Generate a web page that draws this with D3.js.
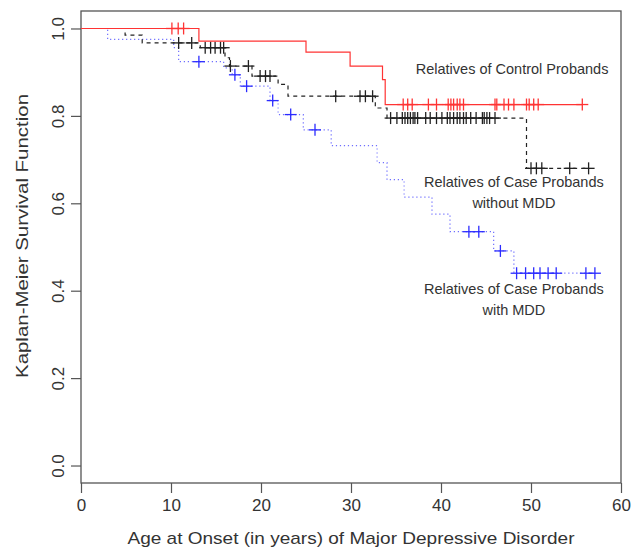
<!DOCTYPE html>
<html>
<head>
<meta charset="utf-8">
<script src="https://cdn.jsdelivr.net/npm/d3@7"></script>
<style>
  body { margin: 0; background: #fff; }
  svg text { font-family: "Liberation Sans", Arial, sans-serif; fill: #333; }
</style>
</head>
<body>
<div id="chart"></div>
<script>
// Kaplan-Meier steps: [age, survival after the drop]
const controlEvents = [[13.1, 0.971], [25.0, 0.946], [29.9, 0.914], [33.5, 0.883], [33.8, 0.826]];
const controlCensor = [10.1, 10.8, 11.4, 35.8, 36.3, 36.8, 38.6, 39.5, 40.8, 41.1, 41.4, 41.8, 42.1, 42.5,
  46.0, 46.2, 47.0, 47.5, 48.1, 49.5, 49.8, 50.3, 50.8, 55.7];

const caseNoMddEvents = [[4.9, 0.985], [6.8, 0.967], [13.25, 0.956], [16.0, 0.933], [16.5, 0.914],
  [19.0, 0.891], [21.9, 0.872], [23.0, 0.845], [32.7, 0.818], [34.0, 0.795], [49.5, 0.68]];
const caseNoMddCensor = [10.85, 12.3, 13.8, 14.4, 14.9, 15.5, 15.85, 16.6, 18.6, 19.9, 20.5, 21.0,
  28.3, 31.0, 31.6, 32.4, 34.4, 35.1, 35.7, 36.0, 36.3, 36.6, 36.9, 37.1, 37.4, 38.3, 38.8, 39.5,
  40.1, 40.7, 41.0, 41.4, 41.8, 42.1, 42.5, 42.8, 43.3, 43.9, 44.6, 44.8, 45.1, 45.4, 46.0,
  50.0, 50.6, 51.2, 54.3, 56.4];

const caseMddEvents = [[2.96, 0.975], [10.3, 0.956], [10.85, 0.924], [15.85, 0.91], [16.8, 0.894],
  [17.7, 0.868], [21.0, 0.835], [21.9, 0.803], [24.7, 0.768], [27.8, 0.732], [32.9, 0.693],
  [34.0, 0.654], [35.9, 0.614], [39.0, 0.575], [41.0, 0.535], [45.85, 0.491], [48.1, 0.44]];
const caseMddCensor = [13.1, 17.1, 18.4, 21.3, 23.3, 26.0, 43.1, 44.2, 46.6, 48.4, 49.4, 50.3,
  51.0, 51.9, 52.8, 56.1, 57.1];

const xTicks = [0, 10, 20, 30, 40, 50, 60];
const yTicks = [0, 0.2, 0.4, 0.6, 0.8, 1.0];

const labels = [
  { lines: ['Relatives of Control Probands'], x: 47.9, y: 0.895 },
  { lines: ['Relatives of Case Probands', 'without MDD'], x: 48.1, y: 0.638 },
  { lines: ['Relatives of Case Probands', 'with MDD'], x: 48.1, y: 0.392 }
];

const W = 643, H = 550;
const margin = { top: 11, right: 22, bottom: 67, left: 81 };

const svg = d3.select('#chart').append('svg')
  .attr('width', W).attr('height', H);

const x = d3.scaleLinear().domain([0, 60]).range([margin.left, W - margin.right]);
const y = d3.scaleLinear().domain([-0.04, 1.04]).range([H - margin.bottom, margin.top]);

// axes
const xAxis = svg.append('g')
  .attr('transform', `translate(0,${H - margin.bottom})`)
  .call(d3.axisBottom(x).tickValues(xTicks).tickSize(10).tickPadding(6).tickFormat(d3.format('d')));
const yAxis = svg.append('g')
  .attr('transform', `translate(${margin.left},0)`)
  .call(d3.axisLeft(y).tickValues(yTicks).tickSize(10).tickPadding(0).tickFormat(d3.format('.1f')));

[xAxis, yAxis].forEach(a => {
  a.select('.domain').remove();
  a.selectAll('line').attr('stroke', '#555').attr('stroke-width', 1.2);
  a.selectAll('text').attr('fill', '#333').style('font-size', '17px');
});

yAxis.selectAll('.tick text')
  .attr('text-anchor', 'middle')
  .attr('transform', 'translate(-23,0) rotate(-90)')
  .attr('x', 0).attr('dy', '0.35em');

// plot box
svg.append('rect')
  .attr('x', x(0)).attr('y', margin.top)
  .attr('width', x(60) - x(0)).attr('height', H - margin.bottom - margin.top)
  .attr('fill', 'none').attr('stroke', '#555').attr('stroke-width', 1.3);

// axis titles
svg.append('text')
  .attr('x', 351).attr('y', 544)
  .attr('text-anchor', 'middle').style('font-size', '17px')
  .attr('textLength', 447).attr('lengthAdjust', 'spacingAndGlyphs')
  .text('Age at Onset (in years) of Major Depressive Disorder');
svg.append('text')
  .attr('transform', `translate(28,236) rotate(-90)`)
  .attr('text-anchor', 'middle').style('font-size', '17px')
  .attr('textLength', 284).attr('lengthAdjust', 'spacingAndGlyphs')
  .text('Kaplan-Meier Survival Function');

const step = d3.line().x(d => x(d[0])).y(d => y(d[1])).curve(d3.curveStepAfter);

function survAt(events, t) {
  let s = 1;
  events.forEach(e => { if (e[0] <= t) s = e[1]; });
  return s;
}

function drawCurve(events, censor, lineColor, markColor, dash) {
  const end = d3.max([d3.max(censor), d3.max(events, e => e[0])]);
  const pts = [[0, 1]].concat(events, [[end, events[events.length - 1][1]]]);
  svg.append('path')
    .attr('d', step(pts))
    .attr('fill', 'none')
    .attr('stroke', lineColor)
    .attr('stroke-width', 1.2)
    .attr('stroke-dasharray', dash);

  const m = 6;
  const marks = svg.append('g').attr('stroke', markColor).attr('stroke-width', 1.3);
  censor.forEach(t => {
    const cx = x(t), cy = y(survAt(events, t));
    marks.append('line').attr('x1', cx - m).attr('x2', cx + m).attr('y1', cy).attr('y2', cy);
    marks.append('line').attr('x1', cx).attr('x2', cx).attr('y1', cy - m).attr('y2', cy + m);
  });
}

drawCurve(caseMddEvents, caseMddCensor, '#6f6fff', '#2b2bff', '1.2,2.8');
drawCurve(caseNoMddEvents, caseNoMddCensor, '#222', '#222', '4,4');
drawCurve(controlEvents, controlCensor, '#ff3333', '#ff3333', null);

// curve labels
labels.forEach(l => {
  const t = svg.append('text')
    .attr('x', x(l.x)).attr('y', y(l.y))
    .attr('text-anchor', 'middle').style('font-size', '14.5px');
  l.lines.forEach((s, i) => {
    t.append('tspan').attr('x', x(l.x)).attr('dy', i === 0 ? 0 : 21).text(s);
  });
});
</script>
</body>
</html>
